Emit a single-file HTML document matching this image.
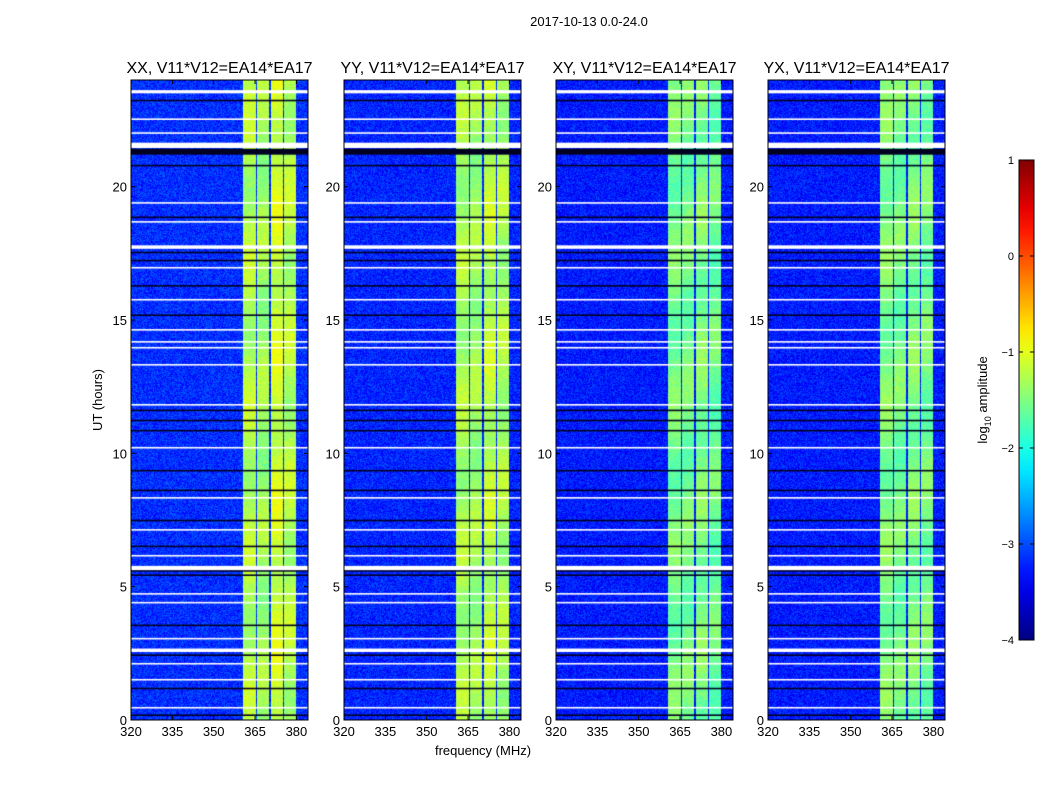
<!DOCTYPE html>
<html><head><meta charset="utf-8">
<style>
body{margin:0;background:#fff;width:1050px;height:800px;overflow:hidden;font-family:"Liberation Sans","DejaVu Sans",sans-serif;}
#wrap{position:relative;width:1050px;height:800px;}
canvas{position:absolute;}
svg{position:absolute;left:0;top:0;}
</style></head>
<body>
<div id="wrap">
<svg id="svg" width="1050" height="800"></svg>
</div>
<script>
// ---- data ----
const panelTitles = ["XX, V11*V12=EA14*EA17","YY, V11*V12=EA14*EA17","XY, V11*V12=EA14*EA17","YX, V11*V12=EA14*EA17"];
const xTicks = [320,335,350,365,380];
const yTicks = [0,5,10,15,20];
const cbTicks = [-4,-3,-2,-1,0,1];
const bandStart = [360.5,365.6,370.6,375.6];
const bandEnd = [365.2,370.2,375.2,380.0];
const bandLevelXX = [-1.25,-1.35,-1.1,-1.25];
const bandLevelYY = [-1.3,-1.35,-1.2,-1.3];
const bandLevelXY = [-1.55,-1.55,-1.5,-1.6];
const bandLevelYX = [-1.5,-1.55,-1.5,-1.55];
const backgroundLevel = [-3.15,-3.2,-3.25,-3.25];
const whiteFlagStart = [23.5,22.5,21.98,21.45,19.36,18.65,17.67,16.93,15.73,14.6,14.15,13.93,13.29,11.79,10.18,8.3,7.1,6.13,5.62,4.7,4.37,3.02,2.55,2.08,1.48,0.43];
const whiteFlagEnd   = [23.62,22.56,22.04,21.65,19.42,18.71,17.8,16.99,15.79,14.66,14.21,13.99,13.35,11.85,10.24,8.36,7.16,6.19,5.78,4.76,4.43,3.08,2.68,2.14,1.54,0.49];
const blackFlagStart = [23.2,21.2,20.76,18.82,17.5,17.2,16.25,15.15,11.58,11.2,10.82,9.32,8.58,7.45,6.48,5.56,5.4,3.52,2.4,1.15,0.15];
const blackFlagEnd   = [23.26,21.42,20.82,18.88,17.56,17.26,16.31,15.21,11.64,11.26,10.88,9.38,8.64,7.51,6.54,5.62,5.46,3.58,2.46,1.21,0.21];
const panelLevels = [bandLevelXX,bandLevelYY,bandLevelXY,bandLevelYX];

// ---- layout ----
const panelX = [131,344,556,768];
const PT = 80, PW = 177, PH = 640;
const fMin = 320, fMax = 384.2, tMin = 0, tMax = 24;
const xs = f => (f - fMin) / (fMax - fMin) * PW;
const ys = t => PH - (t - tMin) / (tMax - tMin) * PH;
const cbX = 1019, cbY = 160, cbW = 15, cbH = 480;
const cbS = v => cbY + cbH - (v + 4) / 5 * cbH;

function jet(v){
  let t = Math.max(0, Math.min(1, (v + 4) / 5));
  const c = x => Math.round(255 * Math.max(0, Math.min(1, x)));
  return [c(1.5 - Math.abs(4*t - 3)), c(1.5 - Math.abs(4*t - 2)), c(1.5 - Math.abs(4*t - 1))];
}
function hash(a,b,c){let h=(a*374761393+b*668265263+c*2147483647)|0;h=(h^(h>>>13))*1274126177|0;return ((h^(h>>>16))>>>0)/4294967296;}

const svg = document.getElementById('svg');
const NS = 'http://www.w3.org/2000/svg';
function mk(tag, attrs, text){const e=document.createElementNS(NS,tag);for(const k in attrs)e.setAttribute(k,attrs[k]);if(text!==undefined)e.textContent=text;svg.appendChild(e);return e;}

const wrap = document.getElementById('wrap');
panelX.forEach((px, p) => {
  const cv = document.createElement('canvas');
  cv.width = PW; cv.height = PH;
  cv.style.left = px + 'px'; cv.style.top = PT + 'px';
  
  
  wrap.insertBefore(cv, svg);
  const ctx = cv.getContext('2d');
  const img = ctx.createImageData(PW, PH);
  const lv = panelLevels[p];
  for (let x = 0; x < PW; x++) {
    const f = fMin + (x + 0.5) / PW * (fMax - fMin);
    let band = -1;
    for (let b = 0; b < bandStart.length; b++) if (f >= bandStart[b] && f <= bandEnd[b]) band = b;
    for (let y = 0; y < PH; y++) {
      const n = hash(x, y, p + 1) - 0.5;
      let v = band >= 0 ? lv[band] + n * 0.35 + 0.15 * Math.sin(y / 23 + band) : backgroundLevel[p] + n * 0.55;
      const [r,g,bb] = jet(v);
      const i = (y * PW + x) * 4;
      img.data[i]=r;img.data[i+1]=g;img.data[i+2]=bb;img.data[i+3]=255;
    }
  }
  ctx.putImageData(img, 0, 0);
  ctx.fillStyle = '#000020';
  blackFlagStart.forEach((s, k) => { const y1 = ys(blackFlagEnd[k]); ctx.fillRect(0, y1, PW, Math.max(1, ys(s) - y1)); });
  ctx.fillStyle = '#ffffff';
  whiteFlagStart.forEach((s, k) => { const y1 = ys(whiteFlagEnd[k]); ctx.fillRect(0, y1, PW, Math.max(1.5, ys(s) - y1)); });

  const fr = mk('rect', {x:px, y:PT, width:PW, height:PH, fill:'none', stroke:'#000', 'stroke-width':1});
  
  
  const tt = mk('text', {x:px + PW/2, y:PT - 7, 'text-anchor':'middle', 'font-size':16}, panelTitles[p]);
  
  
  xTicks.forEach(f => {
    const X = px + xs(f);
    mk('line', {x1:X, x2:X, y1:PT+PH, y2:PT+PH-4, stroke:'#000'});
    mk('line', {x1:X, x2:X, y1:PT, y2:PT+4, stroke:'#000'});
    const l = mk('text', {x:X, y:PT+PH+16, 'text-anchor':'middle', 'font-size':13}, f);
    
    
  });
  yTicks.forEach(t => {
    const Y = PT + ys(t);
    mk('line', {x1:px, x2:px+4, y1:Y, y2:Y, stroke:'#000'});
    mk('line', {x1:px+PW, x2:px+PW-4, y1:Y, y2:Y, stroke:'#000'});
    const l = mk('text', {x:px-4, y:Y+5, 'text-anchor':'end', 'font-size':13}, t);
    
    
  });
});

const defs = mk('defs', {});
const grad = document.createElementNS(NS, 'linearGradient');
grad.setAttribute('id', 'jetg'); grad.setAttribute('x1','0'); grad.setAttribute('y1','1'); grad.setAttribute('x2','0'); grad.setAttribute('y2','0');
for (let i = 0; i <= 20; i++) { const v = -4 + i/4; const [r,g,b] = jet(v); const s = document.createElementNS(NS,'stop'); s.setAttribute('offset', i/20); s.setAttribute('stop-color', `rgb(${r},${g},${b})`); grad.appendChild(s); }
defs.appendChild(grad);
const cb = mk('rect', {x:cbX, y:cbY, width:cbW, height:cbH, fill:'url(#jetg)', stroke:'#000'});


cbTicks.forEach(v => {
  const Y = cbS(v);
  mk('line', {x1:cbX, x2:cbX+4, y1:Y, y2:Y, stroke:'#000'});
  mk('line', {x1:cbX+cbW, x2:cbX+cbW-4, y1:Y, y2:Y, stroke:'#000'});
  const l = mk('text', {x:cbX-5, y:Y+4, 'text-anchor':'end', 'font-size':11}, v < 0 ? '\u2212' + (-v) : v);
  
  
});

const t1 = mk('text', {x:589, y:26, 'text-anchor':'middle', 'font-size':13}, '2017-10-13 0.0-24.0');


const xl = mk('text', {x:483, y:755, 'text-anchor':'middle', 'font-size':13}, 'frequency (MHz)');


const yl = mk('text', {x:0, y:0, 'text-anchor':'middle', 'font-size':13, transform:'translate(102,400) rotate(-90)'}, 'UT (hours)');


const cl = mk('text', {x:0, y:0, 'text-anchor':'middle', 'font-size':13, transform:'translate(987,400) rotate(-90)'});
cl.innerHTML = 'log<tspan font-size="9" dy="4">10</tspan><tspan dy="-4"> amplitude</tspan>';


</script>
</body></html>
